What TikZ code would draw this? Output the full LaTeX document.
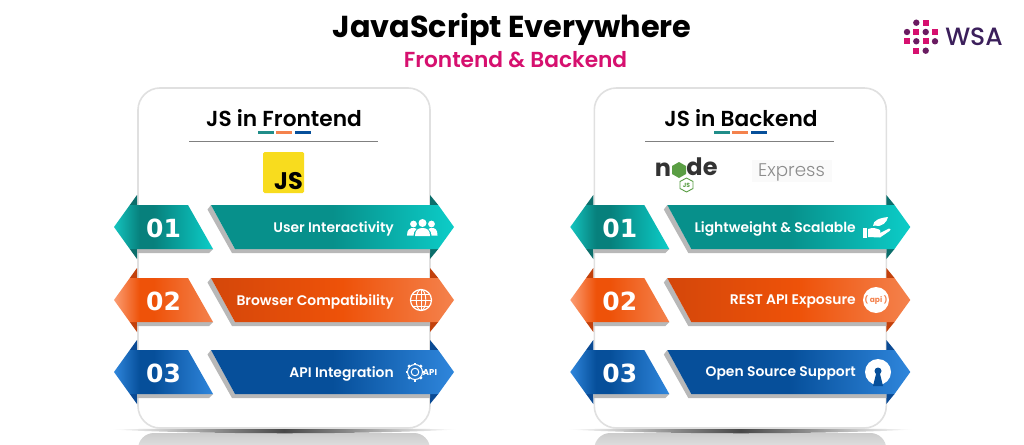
\documentclass[tikz,border=0pt]{standalone}
\usepackage{fontspec}
\setmainfont{Poppins}[BoldFont={* SemiBold}]
\newfontfamily\popbold{Poppins}[UprightFont={* Bold}]
\newfontfamily\popmed{Poppins}[UprightFont={* Medium}]
\newfontfamily\numfont{DejaVu Sans}[UprightFont={* Bold}]
\newfontfamily\expfont{Poppins}[UprightFont={* Light}]
\definecolor{brandpink}{HTML}{D6106F}
\definecolor{brandpurple}{HTML}{3B1F5B}
\definecolor{jsyellow}{HTML}{F8DC1E}
\definecolor{nodegreen}{HTML}{5A9E44}
\definecolor{tealA}{HTML}{14C4BF}\definecolor{tealB}{HTML}{07807C}\definecolor{tealC}{HTML}{0CCDC8}\definecolor{tealD}{HTML}{07908B}\definecolor{tealF}{HTML}{0B6E6B}
\definecolor{orangeA}{HTML}{FB9D73}\definecolor{orangeB}{HTML}{EE5209}\definecolor{orangeC}{HTML}{F4824D}\definecolor{orangeD}{HTML}{D4470A}\definecolor{orangeF}{HTML}{C2410C}
\definecolor{blueA}{HTML}{2F86DC}\definecolor{blueB}{HTML}{064F9A}\definecolor{blueC}{HTML}{2F86DC}\definecolor{blueD}{HTML}{064F9A}\definecolor{blueF}{HTML}{0A4A94}
\newcommand{\defscheme}[2]{%
 \pgfdeclarehorizontalshading{#1L}{100bp}{color(0bp)=(#1A); color(25bp)=(#1A); color(38bp)=(#1B); color(45bp)=(#1B); color(75bp)=(#1C); color(100bp)=(#1C)}%
 \pgfdeclarehorizontalshading{#1R}{100bp}{color(0bp)=(#1D); color(25bp)=(#1D); color(#2bp)=(#1M); color(75bp)=(#1C); color(100bp)=(#1C)}}
\colorlet{tealM}{tealD}\colorlet{orangeM}{orangeB}\colorlet{blueM}{blueB}
\defscheme{teal}{50}\defscheme{orange}{52}\defscheme{blue}{50}
\pgfdeclareverticalshading{reflect}{100bp}{color(0bp)=(white); color(25bp)=(white); color(75bp)=(black!20); color(100bp)=(black!20)}
\pgfdeclarehorizontalshading{groundshade}{100bp}{color(0bp)=(white); color(25bp)=(white); color(33bp)=(black!22); color(42bp)=(black!50); color(50bp)=(black!72); color(58bp)=(black!50); color(67bp)=(black!22); color(75bp)=(white); color(100bp)=(white)}
\tikzset{
 cardbox/.style={draw=black!12,line width=1.6pt,fill=white,rounded corners=22pt},
 drop/.style={fill=black!28},
 numtext/.style={text=white,font=\numfont\fontsize{25}{25}\selectfont,inner sep=0pt},
 ribtext/.style={text=white,font=\bfseries\fontsize{13.9}{15}\selectfont,inner sep=0pt,anchor=east},
 cardhead/.style={font=\bfseries\fontsize{21.7}{24}\selectfont,inner sep=0pt},
 icon/.style={white,line width=1.2pt,line cap=round,line join=round},
 iconfill/.style={fill=white},
 logosq/.style={fill=brandpink},
 logodot/.style={fill=brandpurple!70!brandpink},
}
% name, top y, colour scheme, number, label, label right edge
\newcommand{\ribbon}[6]{%
 \begin{scope}[yshift=-#2pt]
  \fill[#3F] (129.8,0)--(137,-10)--(137,0)--cycle;
  \fill[#3F] (129.8,44)--(137,54)--(137,44)--cycle;
  \fill[#3F] (438.2,0)--(430,-10)--(430,0)--cycle;
  \fill[#3F] (438.2,44)--(430,54)--(430,44)--cycle;
  \fill[drop] (137,44)--(137,48)--(209,48)--(213,44)--cycle;
  \fill[drop] (211,0)--(207.5,4.5)--(232,48)--(430,48)--(430,44)--(235,44)--cycle;
  \path[shading=#3L] (114,22)--(129.8,0)--(188,0)--(213,44)--(129.8,44)--cycle;
  \path[shading=#3R] (211,0)--(438.2,0)--(454,22)--(438.2,44)--(235,44)--cycle;
  \node[numtext] (n#1) at (163.5,23) {#4};
  \node[ribtext] (t#1) at (#6,23.5) {#5};
 \end{scope}}
% name, left x
\newcommand{\card}[3]{%
 \begin{scope}[xshift=#2pt]
  \path[shading=reflect,rounded corners=16pt] (138,433) rectangle (430,470);
  \path[shading=groundshade] (112,429.5) .. controls (200,427.5) and (370,427.5) .. (456,429.5) .. controls (370,434.5) and (200,434.5) .. (112,429.5) -- cycle;
  \path[cardbox] (138,88) rectangle (430,428);
  \fill[tealB!90!white] (258,131) rectangle (274,134);
  \fill[orangeC] (276,131) rectangle (292,134);
  \fill[blueB] (295,131) rectangle (311,134);
  \draw[black!50,line width=.8pt] (189,141) -- (378,141);
 \end{scope}}
\begin{document}
\begin{tikzpicture}[x=1pt,y=-1pt]
\useasboundingbox (0,0) rectangle (1024,444);
\fill[white] (0,0) rectangle (1024,444);
% titles
\node[inner sep=0pt,font=\popbold\fontsize{30.3}{31}\selectfont] (title) at (512,29) {JavaScript Everywhere};
\node[inner sep=0pt,text=brandpink,font=\bfseries\fontsize{21.7}{24}\selectfont] (subtitle) at (515.5,60) {Frontend \& Backend};
% logo
\foreach \x/\y in {925.7/22.7,916.3/32,935/32,907/41.3,925.7/41.3,916.3/50.7}{\fill[logosq] (\x-3,\y-3) rectangle (\x+3,\y+3);}
\foreach \x/\y in {916.3/22.7,907/32,925.7/32,916.3/41.3,935/41.3,925.7/50.7}{\fill[logodot] (\x,\y) circle (3.2);}
\node[inner sep=0pt,text=brandpurple,font=\popmed\fontsize{25}{26}\selectfont] (wsa) at (974,36.5) {WSA};
% cards
\card{left}{0}{}
\card{right}{456.3}{}
\node[cardhead] (headL) at (284,118.5) {JS in Frontend};
\node[cardhead] (headR) at (741,118.5) {JS in Backend};
% ribbons left
\ribbon{A}{205}{teal}{01}{User Interactivity}{394}
\ribbon{B}{278}{orange}{02}{Browser Compatibility}{394}
\ribbon{C}{350}{blue}{03}{API Integration}{394}
% ribbons right
\begin{scope}[xshift=456.3pt]
\ribbon{D}{205}{teal}{01}{Lightweight \& Scalable}{399.7}
\ribbon{E}{278}{orange}{02}{REST API Exposure}{399.7}
\ribbon{F}{350}{blue}{03}{Open Source Support}{399.7}
\end{scope}
% JS logo
\fill[jsyellow,rounded corners=1.5pt] (263,152) rectangle (304,193);
\node[inner sep=0pt,font=\popbold\fontsize{24}{25}\selectfont] (jslogo) at (288.5,181) {JS};
% node logo
\node[inner sep=0pt,text=black!80,font=\popbold\fontsize{24}{25}\selectfont] (noden) at (663,170) {n};
\fill[nodegreen] (679,162)--(686,166)--(686,174)--(679,178)--(672,174)--(672,166)--cycle;
\node[inner sep=0pt,text=black!80,font=\popbold\fontsize{24}{25}\selectfont] (nodede) at (702,167) {de};
\draw[nodegreen,line width=.9pt,line join=round] (686.5,178)--(693,181.5)--(693,188.5)--(686.5,192)--(680,188.5)--(680,181.5)--cycle;
\node[inner sep=0pt,text=nodegreen,font=\popbold\fontsize{6}{6}\selectfont] (nodejs) at (686.5,185.3) {JS};
% Express
\fill[black!2] (752,160) rectangle (832,182);
\node[inner sep=0pt,text=black!45,font=\expfont\fontsize{18.3}{20}\selectfont] (express) at (791.5,172) {Express};
% people icon
\fill[iconfill] (413.5,224) circle (3.4) (422.5,223) circle (4) (431.5,224) circle (3.4);
\fill[iconfill] (407,235.5) .. controls (407,229) and (410,228) .. (413.5,228) .. controls (415,228) and (416,228.5) .. (416.5,229) .. controls (414,231) and (413.5,233) .. (413.5,235.5) -- cycle;
\fill[iconfill] (415,236) .. controls (415,230) and (418,228) .. (422.5,228) .. controls (427,228) and (430,230) .. (430,236) -- cycle;
\fill[iconfill] (437.5,235.5) .. controls (437.5,229) and (435,228) .. (431.5,228) .. controls (430,228) and (429,228.5) .. (428.5,229) .. controls (431,231) and (431.5,233) .. (431.5,235.5) -- cycle;
% globe icon
\draw[icon] (421,300) circle (10.5);
\draw[icon,line width=.9pt] (421,300) ellipse (4.8 and 10.5);
\draw[icon,line width=.9pt] (421,289.5)--(421,310.5) (410.5,300)--(431.5,300) (412.5,294)--(429.5,294) (412.5,306)--(429.5,306);
% gear + API icon
\draw[icon,line width=1pt] (415,372) circle (3.8);
\foreach \a in {0,45,...,315}{\draw[icon,line width=2.4pt,line cap=butt,shift={(415,372)},rotate=\a] (7.5,0)--(9.5,0);}
\draw[icon,line width=1pt] (415,372) circle (7.5);
\node[inner sep=0pt,text=white,font=\popbold\fontsize{8.5}{9}\selectfont] (apilabel) at (430,372.5) {API};
% hand icon
\fill[iconfill] (862.5,228) rectangle (866.5,238);
\fill[iconfill] (868,229) .. controls (873,227) and (877,228.5) .. (880,230) .. controls (882,231.5) and (880,233) .. (877,232.5) -- (875,232.5) -- (881,232.5) -- (889,228.5) .. controls (891,228.5) and (891,230) .. (889.5,231) -- (880,237.5) -- (868,237) -- cycle;
\fill[iconfill] (873,226) .. controls (873,220) and (880,218) .. (888,217) .. controls (887,222) and (882,227.5) .. (875,225.5) -- cycle;
% api icon
\fill[iconfill] (876,300) circle (13);
\node[inner sep=0pt,text=orangeC,font=\popbold\fontsize{7.5}{8}\selectfont] (apicircle) at (876,300.5) {( api )};
% open source icon
\fill[iconfill] (878,372) circle (13);
\fill[blueB] (878,371) circle (3.5);
\fill[blueB] (876.5,372)--(879.5,372)--(883,386)--(873,386)--cycle;
\end{tikzpicture}
\end{document}
